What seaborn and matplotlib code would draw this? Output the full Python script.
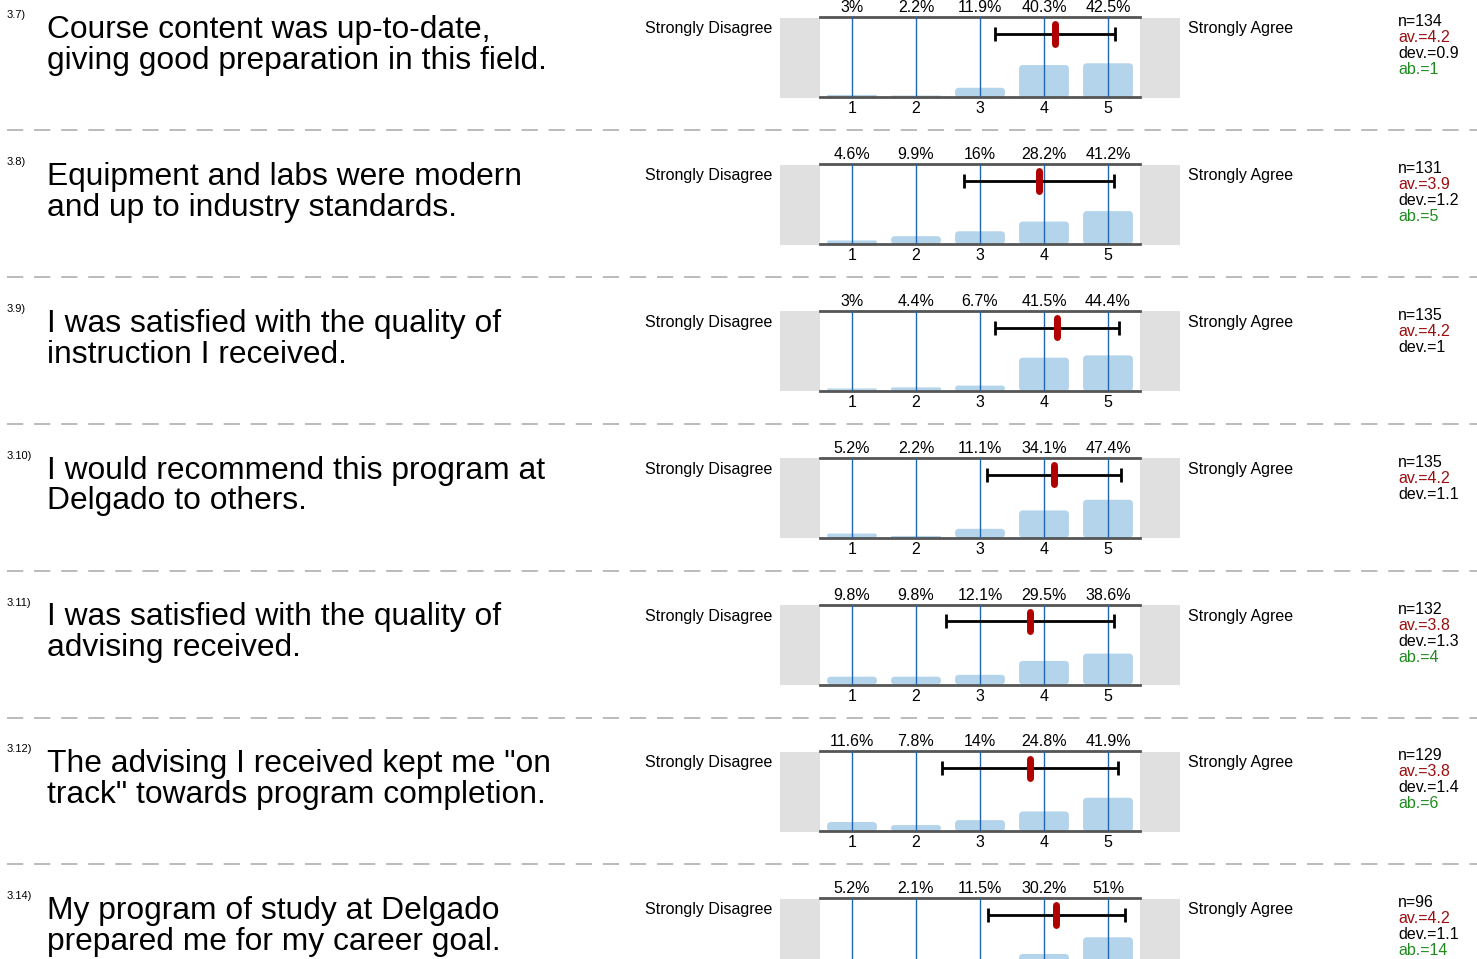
import matplotlib
matplotlib.use("Agg")
import matplotlib.pyplot as plt
import seaborn as sns
from matplotlib.patches import Rectangle, FancyBboxPatch
from matplotlib.lines import Line2D

# survey items
numbers = ["3.7)", "3.8)", "3.9)", "3.10)", "3.11)", "3.12)", "3.14)"]
questions = [
    "Course content was up-to-date,\ngiving good preparation in this field.",
    "Equipment and labs were modern\nand up to industry standards.",
    "I was satisfied with the quality of\ninstruction I received.",
    "I would recommend this program at\nDelgado to others.",
    "I was satisfied with the quality of\nadvising received.",
    "The advising I received kept me \"on\ntrack\" towards program completion.",
    "My program of study at Delgado\nprepared me for my career goal.",
]
scale = [1, 2, 3, 4, 5]
pcts = [
    [3, 2.2, 11.9, 40.3, 42.5],
    [4.6, 9.9, 16, 28.2, 41.2],
    [3, 4.4, 6.7, 41.5, 44.4],
    [5.2, 2.2, 11.1, 34.1, 47.4],
    [9.8, 9.8, 12.1, 29.5, 38.6],
    [11.6, 7.8, 14, 24.8, 41.9],
    [5.2, 2.1, 11.5, 30.2, 51],
]
n_vals = [134, 131, 135, 135, 132, 129, 96]
av_labels = ["4.2", "3.9", "4.2", "4.2", "3.8", "3.8", "4.2"]
dev_labels = ["0.9", "1.2", "1", "1.1", "1.3", "1.4", "1.1"]
ab_labels = ["1", "5", None, None, "4", "6", "14"]
# mean marker / spread as placed on the scale
mean_pos = [4.17, 3.92, 4.20, 4.16, 3.78, 3.78, 4.19]
dev_pos = [0.94, 1.17, 0.97, 1.05, 1.31, 1.37, 1.07]

W, H = 1477, 959
sns.set_theme(style="white")
plt.rcParams["font.family"] = ["Liberation Sans", "DejaVu Sans"]

fig = plt.figure(figsize=(W / 100, H / 100), dpi=100)


def fx(px):
    return px / W


def fy(py):
    return 1 - py / H


bar_color = "#b4d4eb"
line_blue = "#2366ad"
spine_col = "#555555"
px_x = 64.0   # pixels per scale step
px_y = 0.8    # pixels per percent

for i in range(7):
    top = 17.3 + i * 146.8
    ax = fig.add_axes([fx(820), fy(top + 80), fx(320), 80 / H])

    # grey side boxes
    for x0 in (780, 1140):
        fig.add_artist(Rectangle((fx(x0), fy(top + 80.5)), fx(40), 80 / H,
                                 transform=fig.transFigure, color="#e0e0e0",
                                 lw=0, zorder=0))

    sns.barplot(x=scale, y=pcts[i], native_scale=True, color=bar_color,
                saturation=1, width=0.78, ax=ax, zorder=2)
    # round the bar corners a little
    for p in list(ax.patches):
        x0, y0, w, h = p.get_x(), p.get_y(), p.get_width(), p.get_height()
        r = min(4.0, h * px_y / 2) / px_x
        rb = FancyBboxPatch((x0, y0), w, h,
                            boxstyle=f"round,pad=0,rounding_size={r}",
                            mutation_aspect=px_x / px_y,
                            facecolor=bar_color, edgecolor="none", zorder=2)
        p.set_visible(False)
        ax.add_patch(rb)
    for x in scale:
        ax.axvline(x, color=line_blue, lw=1.0, zorder=3)

    ax.errorbar(mean_pos[i], 79, xerr=dev_pos[i], fmt="none", ecolor="black",
                elinewidth=2, capsize=5, capthick=2, zorder=4)
    ax.plot([mean_pos[i], mean_pos[i]], [67, 91], color="#b00000", lw=5,
            solid_capstyle="round", zorder=5)

    ax.set_xlim(0.5, 5.5)
    ax.set_ylim(0, 100)
    ax.set_xticks(scale)
    if i < 6:
        ax.set_xticklabels([str(s) for s in scale])
    else:
        ax.set_xticklabels([])
    ax.set_yticks([])
    ax.set_xlabel("")
    ax.set_ylabel("")
    ax.tick_params(axis="x", length=0, labelsize=11.5, pad=3, colors="black")
    for side in ("left", "right"):
        ax.spines[side].set_visible(False)
    for side in ("top", "bottom"):
        ax.spines[side].set_color(spine_col)
        ax.spines[side].set_linewidth(2)
    ax.patch.set_alpha(0)

    for x, v in zip(scale, pcts[i]):
        ax.text(x, 1 + 9.5 / 80, f"{v:g}%", transform=ax.get_xaxis_transform(),
                ha="center", va="center", fontsize=11.5, color="black")

    # labels to the left
    fig.text(fx(7), fy(top + 1), numbers[i], fontsize=8, ha="left",
             va="baseline", color="black")
    fig.text(fx(47), fy(top - 2), questions[i], fontsize=22.9, ha="left",
             va="top", linespacing=1.03, color="black")
    fig.text(fx(645), fy(top + 11.5), "Strongly Disagree", fontsize=11.5,
             ha="left", va="center", color="black")
    fig.text(fx(1188), fy(top + 11.5), "Strongly Agree", fontsize=11.5,
             ha="left", va="center", color="black")

    # stats
    stats = [(f"n={n_vals[i]}", "black"), (f"av.={av_labels[i]}", "#9b0d0d"),
             (f"dev.={dev_labels[i]}", "black")]
    if ab_labels[i] is not None:
        stats.append((f"ab.={ab_labels[i]}", "#1e8c1e"))
    for k, (txt, col) in enumerate(stats):
        fig.text(fx(1398), fy(top + 9 + 16 * k), txt, fontsize=11.5,
                 ha="left", va="baseline", color=col)

    # dashed separator
    if i < 6:
        ysep = fy(top + 113)
        fig.add_artist(Line2D([fx(7), 1], [ysep, ysep], transform=fig.transFigure,
                              color="#b5b5b5", lw=1.3, dashes=(9, 6)))

fig.savefig("out.png", dpi=100)
